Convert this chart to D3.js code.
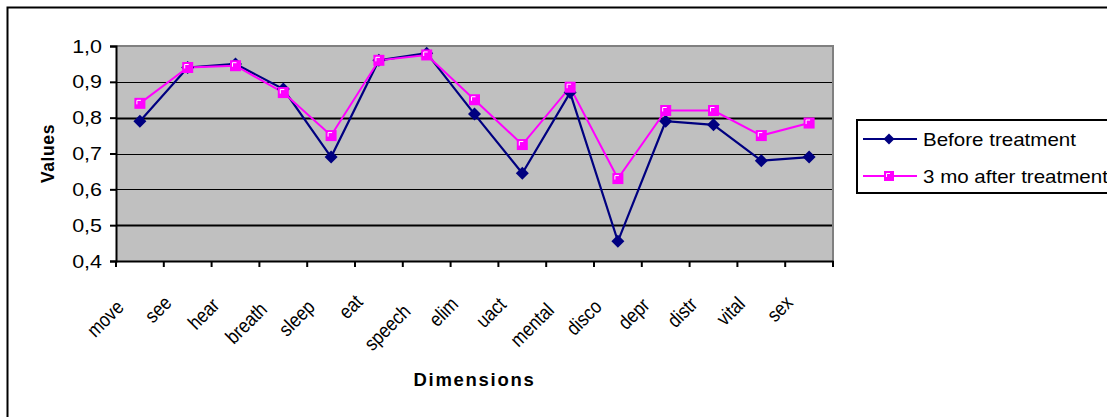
<!DOCTYPE html>
<html><head><meta charset="utf-8">
<script src="https://cdn.jsdelivr.net/npm/d3@7"></script>
<style>
html,body{margin:0;padding:0;background:#fff;}
svg{display:block;font-family:Arial,"Liberation Sans",sans-serif;}
</style></head>
<body>
<svg id="chart" width="1107" height="417"></svg>
<script>
const categories = ["move","see","hear","breath","sleep","eat","speech","elim","uact","mental","disco","depr","distr","vital","sex"];
const beforeTreatment = [0.79,0.94,0.95,0.88,0.69,0.96,0.98,0.81,0.645,0.87,0.455,0.79,0.78,0.68,0.69];
const afterTreatment = [0.84,0.94,0.945,0.87,0.75,0.96,0.975,0.85,0.725,0.885,0.63,0.82,0.82,0.75,0.785];
const seriesNames = ["Before treatment","3 mo after treatment"];
const yTicks = [0.4,0.5,0.6,0.7,0.8,0.9,1.0];

const svg = d3.select("#chart");
const L = 116, R = 833, T = 46, B = 261;

function stretch(sel, f){
  sel.each(function(){
    const n = this.getComputedTextLength();
    d3.select(this).attr("textLength", n*f).attr("lengthAdjust","spacingAndGlyphs");
  });
}

// outer chart border
svg.append("rect").attr("x",7.5).attr("y",7.5).attr("width",1140).attr("height",440)
  .attr("fill","none").attr("stroke","#000").attr("stroke-width",2);

const x = d3.scaleBand().domain(categories).range([L,R]).padding(0);
const y = d3.scaleLinear().domain([0.4,1.0]).range([B,T]);
const cx = d => x(d) + x.bandwidth()/2;

// plot background
svg.append("rect").attr("x",L).attr("y",T).attr("width",R-L).attr("height",B-T).attr("fill","#c0c0c0");

// gridlines
svg.append("g").selectAll("line").data(yTicks.filter(v=>v>0.4 && v<1.0)).join("line")
  .attr("x1",L).attr("x2",R).attr("y1",d=>Math.round(y(d))+0.5).attr("y2",d=>Math.round(y(d))+0.5)
  .attr("stroke","#000").attr("stroke-width",(d)=> (Math.abs(d-0.8)<1e-6||Math.abs(d-0.5)<1e-6)?2:1.2);

// top & right plot border (grey)
svg.append("line").attr("x1",L).attr("x2",R+1).attr("y1",T).attr("y2",T).attr("stroke","#808080").attr("stroke-width",2);
svg.append("line").attr("x1",R).attr("x2",R).attr("y1",T).attr("y2",B).attr("stroke","#808080").attr("stroke-width",2);

// y axis
const yAxis = d3.axisLeft(y).tickValues(yTicks).tickSize(6).tickPadding(8)
  .tickFormat(d=>d3.format(".1f")(d).replace(".",","));
const gy = svg.append("g").attr("transform",`translate(${L},0)`).call(yAxis);
gy.select(".domain").attr("stroke","#000").attr("stroke-width",2);
gy.selectAll(".tick line").attr("stroke","#000").attr("stroke-width",2);
gy.selectAll(".tick text").attr("font-size",19).attr("fill","#000").attr("font-family","Arial, 'Liberation Sans', sans-serif");
stretch(gy.selectAll(".tick text"),1.13);

// x axis
const xAxis = d3.axisBottom(x).tickSize(0).tickFormat("");
const gx = svg.append("g").attr("transform",`translate(0,${B})`).call(xAxis);
gx.select(".domain").attr("stroke","#000").attr("stroke-width",2);
const bounds = categories.map(c=>x(c)).concat([R]);
gx.append("g").selectAll("line").data(bounds).join("line")
  .attr("x1",d=>d).attr("x2",d=>d).attr("y1",0).attr("y2",6).attr("stroke","#000").attr("stroke-width",2);

// x labels rotated
const labels = svg.append("g").selectAll("text").data(categories).join("text")
  .attr("font-size",20).attr("fill","#000").attr("text-anchor","end")
  .text(d=>d);
labels.each(function(d){
  const len = this.getComputedTextLength()*0.86;
  d3.select(this).attr("textLength",len).attr("lengthAdjust","spacingAndGlyphs");
  const px = cx(d) - 15;
  const py = B + 35 + 0.3*len;
  d3.select(this).attr("transform",`translate(${px},${py}) rotate(-45)`);
});

// lines
const line = d3.line().x((v,i)=>cx(categories[i])).y(v=>y(v));
svg.append("path").datum(beforeTreatment).attr("d",line).attr("fill","none").attr("stroke","#000080").attr("stroke-width",2.2);
svg.append("path").datum(afterTreatment).attr("d",line).attr("fill","none").attr("stroke","#ff00ff").attr("stroke-width",2);

// markers
function diamond(g,px,py,s){
  g.append("path").attr("d",`M${px},${py-s}L${px+s},${py}L${px},${py+s}L${px-s},${py}Z`).attr("fill","#000080");
}
function square(g,px,py,s){
  g.append("rect").attr("x",px-s).attr("y",py-s).attr("width",2*s).attr("height",2*s).attr("fill","#ff00ff");
  g.append("path").attr("d",`M${px-s+2.5},${py+1}V${py-s+2.5}H${px+1}`).attr("fill","none").attr("stroke","#fff").attr("stroke-width",1);
}
const mb = svg.append("g");
beforeTreatment.forEach((v,i)=>diamond(mb,cx(categories[i]),y(v),6.5));
const ma = svg.append("g");
afterTreatment.forEach((v,i)=>square(ma,cx(categories[i]),y(v),5.5));

// axis titles
svg.append("text").attr("transform",`translate(54,${(T+B)/2}) rotate(-90)`).attr("text-anchor","middle")
  .attr("font-size",17.5).attr("font-weight","bold").attr("letter-spacing",0.6).text("Values");
svg.append("text").attr("x",(L+R)/2).attr("y",386).attr("text-anchor","middle")
  .attr("font-size",18.5).attr("font-weight","bold").attr("letter-spacing",1.7).text("Dimensions");

// legend
const lg = svg.append("g");
lg.append("rect").attr("x",857).attr("y",120).attr("width",300).attr("height",73)
  .attr("fill","#fff").attr("stroke","#000").attr("stroke-width",2);
const rows = [139,176];
seriesNames.forEach((name,i)=>{
  const yy = rows[i];
  lg.append("line").attr("x1",863).attr("x2",917).attr("y1",yy).attr("y2",yy)
    .attr("stroke",i===0?"#000080":"#ff00ff").attr("stroke-width",2);
  if(i===0) diamond(lg,889,yy,5.5); else square(lg,889,yy,5);
  const t = lg.append("text").attr("x",923).attr("y",yy+6.5).attr("font-size",18.5).text(name);
  stretch(t,1.11);
});
</script>
</body></html>
